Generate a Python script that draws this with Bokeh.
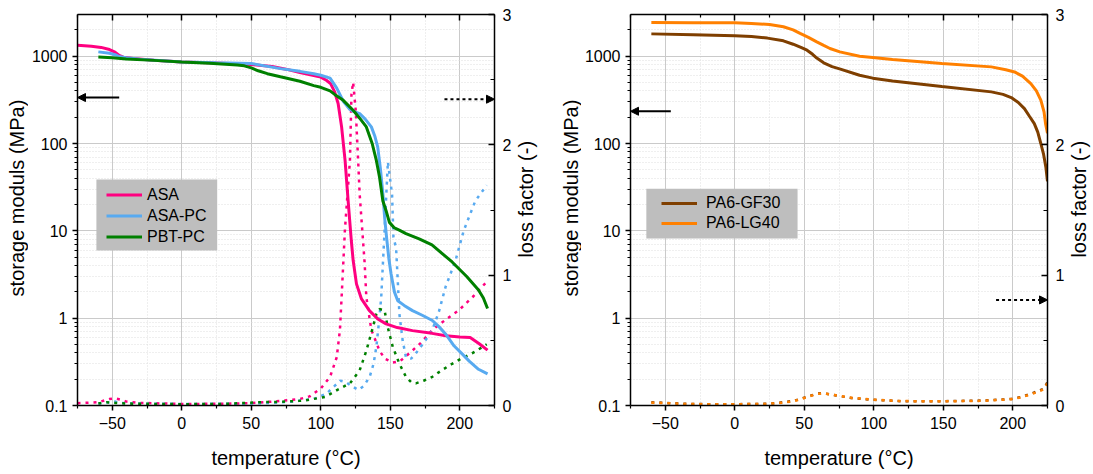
import math
from bokeh.plotting import figure
from bokeh.models import (Range1d, LinearAxis, LinearScale, FixedTicker, CustomJSTickFormatter,
                          Legend, LegendItem, Arrow, NormalHead, BoxAnnotation, Label)
from bokeh.layouts import row
from bokeh.embed import file_html
from bokeh.resources import INLINE

FONT = "Liberation Sans"
H = 474

# ---------------- tick definitions ----------------
X_MAJOR = [-50, 0, 50, 100, 150, 200]
X_MINOR = [-75, -25, 25, 75, 125, 175, 225]
Y_MAJOR = [0.1, 1, 10, 100, 1000]
Y_MINOR = [0.2, 0.3, 0.4, 0.5, 0.6, 0.7, 0.8, 0.9,
           2, 3, 4, 5, 6, 7, 8, 9,
           20, 30, 40, 50, 60, 70, 80, 90,
           200, 300, 400, 500, 600, 700, 800, 900, 2000]
LOSS_MAJOR = [0, 1, 2, 3]
LOSS_MINOR = [0.5, 1.5, 2.5]

X_TITLE = "temperature (°C)"
Y_TITLE = "storage moduls (MPa)"
Y2_TITLE = "loss factor (-)"

# ---------------- left panel data ----------------
ASA_T = [-75, -65, -58, -52, -48, -45, -42, -35, -20, 0, 25, 50, 65, 75, 85, 95, 100, 104, 107,
         110, 112.5, 115, 117.5, 119.7, 122, 123.3, 125.7, 129.3, 135, 141, 147, 155, 166, 180,
         190, 200, 207.5, 214, 220]
ASA_E = [1330, 1300, 1260, 1190, 1110, 1020, 975, 940, 900, 860, 835, 805, 760, 710, 650, 600,
         575, 530, 487, 390, 287, 155, 64, 22, 7.7, 4.6, 2.47, 1.66, 1.22, 0.98, 0.86, 0.78, 0.72,
         0.67, 0.63, 0.61, 0.60, 0.51, 0.43]

ASAPC_T = [-60, -52, -48, -45, -40, -30, 0, 25, 50, 71, 85, 95, 100, 106.7, 111.5, 116.2, 121,
           124, 128, 132, 136.4, 139, 141, 143, 144.7, 146, 147.5, 149, 150.6, 153, 155.4, 160,
           166, 173, 180.3, 185, 189.8, 196, 201.7, 207, 213.5, 220]
ASAPC_E = [1120, 1080, 1040, 990, 960, 920, 860, 840, 825, 720, 670, 630, 605, 560, 430, 305,
           245, 232, 220, 190, 155, 120, 91, 50, 26.5, 14, 8, 4.8, 3.2, 2.0, 1.58, 1.4, 1.22,
           1.08, 0.94, 0.80, 0.66, 0.48, 0.39, 0.32, 0.26, 0.23]

PBTPC_T = [-60, -50, -40, -20, 0, 20, 40, 45, 50, 55, 61.6, 71, 85, 95, 100, 106.7, 110, 116.2,
           123.3, 128, 132.8, 137, 140, 142.3, 144.7, 147, 149.4, 153, 156.5, 161.3, 170.8, 180,
           194.5, 205, 213.5, 217, 220]
PBTPC_E = [980, 960, 930, 895, 860, 830, 790, 775, 735, 680, 630, 580, 516, 460, 440, 400, 365,
           312, 240, 195, 155, 100, 64, 41, 22, 17, 12.5, 10.8, 10.2, 9.3, 8.1, 6.9, 4.4, 3.0,
           2.1, 1.7, 1.29]

ASA_LT = [-75, -60, -52, -48, -44, -40, -30, 0, 30, 50, 65, 76, 85, 92, 100, 106.7, 111.5, 113.8,
          115, 116.2, 117.4, 121, 122.1, 123.3, 125.2, 126.9, 128, 129.7, 131.6, 132.8, 136.4,
          142.3, 146, 151.8, 157, 163.7, 172, 180.3, 190, 199.3, 210, 219.4]
ASA_L = [0.018, 0.025, 0.05, 0.055, 0.045, 0.03, 0.02, 0.012, 0.013, 0.018, 0.03, 0.04, 0.05,
         0.07, 0.13, 0.22, 0.37, 0.58, 0.83, 1.09, 1.35, 1.88, 2.39, 2.48, 2.26, 1.88, 1.62, 1.37,
         1.09, 0.83, 0.58, 0.42, 0.36, 0.33, 0.34, 0.40, 0.48, 0.58, 0.66, 0.73, 0.84, 0.95]

ASAPC_LT = [-60, -52, -48, -44, -35, 0, 40, 60, 80, 95, 104, 110, 114, 118, 122, 127, 131, 135.2,
            138, 140, 142, 143.5, 145.9, 148.3, 151.3, 152.3, 154.2, 155.4, 156.6, 158.9, 161.3,
            165, 168.4, 174, 180.3, 185, 189.8, 196.9, 202.8, 211.2, 219.4]
ASAPC_L = [0.015, 0.025, 0.03, 0.02, 0.015, 0.012, 0.013, 0.018, 0.03, 0.05, 0.09, 0.15, 0.19,
           0.18, 0.15, 0.12, 0.15, 0.22, 0.32, 0.45, 0.65, 0.83, 1.34, 1.87, 1.62, 1.29, 1.21,
           0.96, 0.70, 0.50, 0.37, 0.36, 0.40, 0.48, 0.58, 0.72, 0.91, 1.11, 1.34, 1.57, 1.69]

PBTPC_LT = [-60, -54, -48, -40, -20, 0, 30, 55, 71, 88, 103, 112, 121, 128, 132.8, 137.5, 140,
            142.3, 145.9, 148.2, 151.8, 156.6, 161.3, 165, 168.4, 174, 180.3, 187, 194.5, 201,
            208.8, 215, 219.4]
PBTPC_L = [0.015, 0.025, 0.02, 0.015, 0.012, 0.010, 0.012, 0.025, 0.028, 0.038, 0.065, 0.12,
           0.17, 0.27, 0.42, 0.60, 0.70, 0.74, 0.73, 0.60, 0.45, 0.32, 0.22, 0.18, 0.17, 0.19,
           0.22, 0.27, 0.32, 0.36, 0.40, 0.44, 0.47]

# ---------------- right panel data ----------------
GF30_T = [-60, -30, 0, 12, 23.5, 35, 42, 48, 52, 56, 59, 64, 70, 76, 89.8, 99.3, 113.5, 149,
          184.6, 193, 198.9, 204, 208.4, 212, 215.5, 218, 220.2, 222.2, 223.8, 225]
GF30_E = [1800, 1760, 1710, 1680, 1610, 1500, 1370, 1250, 1170, 1050, 950, 840, 760, 710, 605,
          560, 521, 450, 390, 365, 336, 295, 251, 205, 169, 135, 100, 75, 54, 37]

LG40_T = [-60, -30, 0, 12, 25, 35, 42, 47, 53, 59, 64, 68.5, 75.6, 89.8, 99.3, 113.5, 149, 184.6,
          195, 201.3, 207, 213, 217, 220.2, 222.5, 223.6, 225]
LG40_E = [2430, 2420, 2410, 2370, 2300, 2170, 2000, 1820, 1640, 1460, 1330, 1225, 1120, 1000,
          966, 916, 825, 754, 700, 660, 590, 486, 400, 313, 230, 169, 131]

GF30_LT = [-60, -50, -36, -20, 0, 23.5, 35, 42, 47, 53, 59, 63, 66, 73, 85, 99, 120, 149, 180,
           199, 206, 213, 218, 222.6, 225]
GF30_L = [0.025, 0.02, 0.013, 0.01, 0.01, 0.013, 0.025, 0.035, 0.05, 0.07, 0.09, 0.095, 0.09,
          0.077, 0.056, 0.044, 0.033, 0.033, 0.038, 0.05, 0.065, 0.09, 0.11, 0.13, 0.18]
LG40_LT = [-60, -50, -36, -20, 0, 23.5, 35, 42, 47, 53, 59, 63, 66, 73, 85, 99, 120, 149, 180,
           199, 206, 213, 218, 222.6, 225]
LG40_L = [0.022, 0.018, 0.012, 0.009, 0.01, 0.012, 0.022, 0.032, 0.047, 0.068, 0.088, 0.093,
          0.09, 0.078, 0.058, 0.045, 0.034, 0.032, 0.036, 0.048, 0.062, 0.085, 0.105, 0.125, 0.17]

C_ASA = "#ff0080"
C_ASAPC = "#58aaf0"
C_PBTPC = "#008000"
C_GF30 = "#7f3f00"
C_LG40 = "#ff8000"


def style_axis(ax, t_in, t_out, m_in, m_out, standoff):
    ax.axis_line_color = "black"
    ax.axis_line_width = 1.5
    ax.major_tick_line_color = "black"
    ax.major_tick_line_width = 1.5
    ax.minor_tick_line_color = "black"
    ax.minor_tick_line_width = 1.2
    ax.major_tick_in = t_in
    ax.major_tick_out = t_out
    ax.minor_tick_in = m_in
    ax.minor_tick_out = m_out
    ax.major_label_standoff = standoff
    ax.major_label_text_font = FONT
    ax.major_label_text_font_size = "16px"
    ax.major_label_text_color = "black"


def title_strip(width, labels):
    f = figure(width=width, height=H, x_range=Range1d(0, width), y_range=Range1d(0, H),
               x_axis_location=None, y_axis_location=None, output_backend="svg",
               toolbar_location=None, min_border=0)
    f.outline_line_color = None
    f.grid.visible = False
    for x, y_from_top, text in labels:
        f.add_layout(Label(x=x, y=H - y_from_top, text=text, angle=math.pi / 2,
                           text_font=FONT, text_font_size="20px", text_color="black",
                           text_align="center", text_baseline="middle"))
    return f


def make_panel(width, b_left, b_right):
    p = figure(width=width, height=H, x_range=Range1d(-75, 225), y_range=Range1d(0.1, 3000),
               y_axis_type="log", output_backend="svg", toolbar_location=None,
               min_border_left=b_left, min_border_right=b_right, min_border_top=14,
               min_border_bottom=69)
    p.outline_line_color = None
    p.extra_y_ranges = {"loss": Range1d(0, 3)}
    p.extra_y_scales = {"loss": LinearScale()}

    xt = FixedTicker(ticks=X_MAJOR, minor_ticks=X_MINOR)
    yt = FixedTicker(ticks=Y_MAJOR, minor_ticks=Y_MINOR)
    p.xaxis.ticker = xt
    p.yaxis.ticker = yt
    p.xgrid.ticker = xt
    p.ygrid.ticker = yt
    p.yaxis.formatter = CustomJSTickFormatter(code="return tick < 1 ? tick.toFixed(1) : tick.toFixed(0);")
    for g in (p.xgrid, p.ygrid):
        g.grid_line_color = "#cacaca"
        g.grid_line_width = 1
        g.minor_grid_line_color = "#dedede"
        g.minor_grid_line_dash = "1 2"
        g.minor_grid_line_width = 1

    style_axis(p.xaxis[0], 0, 5, 0, 3, 6)
    style_axis(p.yaxis[0], 0, 5, 0, 3, 5)
    p.xaxis.axis_label = X_TITLE
    p.xaxis.axis_label_text_font = FONT
    p.xaxis.axis_label_text_font_size = "20px"
    p.xaxis.axis_label_text_font_style = "normal"
    p.xaxis.axis_label_text_color = "black"
    p.xaxis.axis_label_standoff = 15

    top = LinearAxis(ticker=xt)
    style_axis(top, 6, 0, 3, 0, 0)
    top.major_label_text_font_size = "0px"
    top.major_label_text_color = None
    p.add_layout(top, "above")

    right = LinearAxis(y_range_name="loss",
                       ticker=FixedTicker(ticks=LOSS_MAJOR, minor_ticks=LOSS_MINOR))
    style_axis(right, 6, 0, 4, 0, 8)
    p.add_layout(right, "right")
    return p


def add_legend(p, items, x, y, label_h, standoff):
    leg = Legend(items=items, location=(x, y), padding=0, spacing=0, margin=0,
                 label_height=label_h, glyph_height=label_h, glyph_width=36,
                 label_standoff=standoff, background_fill_alpha=0, border_line_color=None,
                 label_text_font=FONT, label_text_font_size="16px", label_text_color="black")
    p.add_layout(leg)


def arrow(p, x0, x1, y, dashed=False, range_name="default"):
    kw = dict(end=NormalHead(size=8, fill_color="black", line_color="black", line_width=1),
              x_start=x0, y_start=y, x_end=x1, y_end=y, line_color="black", line_width=2)
    if dashed:
        kw["line_dash"] = "3 3"
    if range_name != "default":
        kw["y_range_name"] = range_name
    p.add_layout(Arrow(**kw))


DASH = "3 5"

# ---------------- left panel ----------------
p1 = make_panel(486, 47, 18)
for T, L, c in ((ASA_LT, ASA_L, C_ASA), (ASAPC_LT, ASAPC_L, C_ASAPC), (PBTPC_LT, PBTPC_L, C_PBTPC)):
    p1.line(T, L, line_color=c, line_width=2.5, line_dash=DASH, y_range_name="loss")
r_asa = p1.line(ASA_T, ASA_E, line_color=C_ASA, line_width=3)
r_asapc = p1.line(ASAPC_T, ASAPC_E, line_color=C_ASAPC, line_width=3)
r_pbt = p1.line(PBTPC_T, PBTPC_E, line_color=C_PBTPC, line_width=3)
p1.add_layout(BoxAnnotation(left=-61.4, right=25.5, bottom=5.96, top=38.8,
                            fill_color="#bebebe", fill_alpha=1, line_color=None))
add_legend(p1, [LegendItem(label="ASA", renderers=[r_asa]),
                LegendItem(label="ASA-PC", renderers=[r_asapc]),
                LegendItem(label="PBT-PC", renderers=[r_pbt])], 29, 158, 21, 5)
arrow(p1, -45, -75, 336)
arrow(p1, 189, 225, 2.35, dashed=True, range_name="loss")

# ---------------- right panel ----------------
p2 = make_panel(486, 47, 17)
p2.line(GF30_LT, GF30_L, line_color=C_GF30, line_width=2.5, line_dash=DASH, y_range_name="loss")
p2.line(LG40_LT, LG40_L, line_color=C_LG40, line_width=2.5, line_dash=DASH, y_range_name="loss")
r_gf = p2.line(GF30_T, GF30_E, line_color=C_GF30, line_width=3)
r_lg = p2.line(LG40_T, LG40_E, line_color=C_LG40, line_width=3)
p2.add_layout(BoxAnnotation(left=-63.6, right=45.2, bottom=8.18, top=30.4,
                            fill_color="#bebebe", fill_alpha=1, line_color=None))
add_legend(p2, [LegendItem(label="PA6-GF30", renderers=[r_gf]),
                LegendItem(label="PA6-LG40", renderers=[r_lg])], 31, 172, 20, 9)
arrow(p2, -46, -75, 234)
arrow(p2, 188, 225, 0.81, dashed=True, range_name="loss")

# ---------------- title strips (vertical axis titles) ----------------
t0 = title_strip(28, [(16.5, 222.5, Y_TITLE)])
t1 = title_strip(67, [(11, 224, Y2_TITLE), (56.5, 222.5, Y_TITLE)])
t2 = title_strip(25, [(11, 224, Y2_TITLE)])

layout = row(t0, p1, t1, p2, t2)
open("out.html", "w").write(file_html(layout, INLINE))
